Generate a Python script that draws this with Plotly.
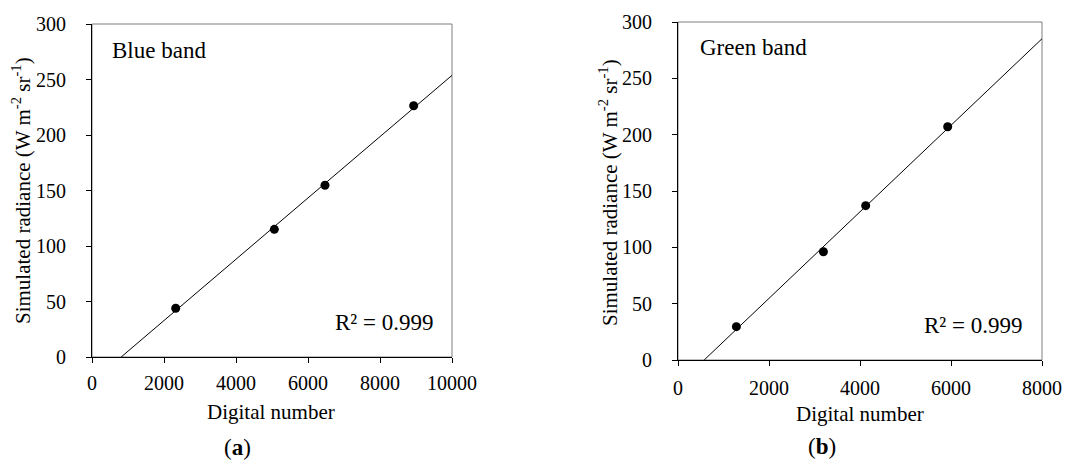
import numpy as np
import plotly.graph_objects as go

# Data
blue_dn = [2325, 5065, 6472, 8935]
blue_rad = [43.9, 115.0, 154.7, 226.4]
green_dn = [1283, 3196, 4125, 5927]
green_rad = [29.6, 96.1, 137.0, 207.0]

blue_xticks = [0, 2000, 4000, 6000, 8000, 10000]
blue_xlabels = ["0", "2000", "4000", "6000", "8000", "10000"]
green_xticks = [0, 2000, 4000, 6000, 8000]
green_xlabels = ["0", "2000", "4000", "6000", "8000"]
y_ticks = [0, 50, 100, 150, 200, 250, 300]

FONT = "Liberation Serif"
W, H = 1067, 460

def px_x(p):
    return p / W

def px_y(p):
    return 1 - p / H

fig = go.Figure()

def trend(xs, ys, xmax):
    m, b = np.polyfit(xs, ys, 1)
    x0 = -b / m
    return [x0, xmax], [m * x0 + b, m * xmax + b]

for xs, ys, xmax, xa, ya in [(blue_dn, blue_rad, 10000, "x", "y"),
                             (green_dn, green_rad, 8000, "x2", "y2")]:
    tx, ty = trend(xs, ys, xmax)
    fig.add_trace(go.Scatter(x=tx, y=ty, mode="lines", xaxis=xa, yaxis=ya,
                             line=dict(color="black", width=1), showlegend=False,
                             hoverinfo="skip"))
    fig.add_trace(go.Scatter(x=xs, y=ys, mode="markers", xaxis=xa, yaxis=ya,
                             marker=dict(color="black", size=9), showlegend=False))

# panel geometry (pixels)
A = dict(l=92, r=452, t=24, b=357)
B = dict(l=678, r=1042, t=22, b=360)

axis_common = dict(showgrid=False, zeroline=False, showline=True, linecolor="black",
                   linewidth=1, ticks="outside", ticklen=5, tickcolor="black", automargin=False,
                   tickfont=dict(family=FONT, size=20, color="black"))
inner_ticks = dict(showgrid=False, zeroline=False, showline=False, ticks="inside", automargin=False,
                   ticklen=2, tickcolor="black", showticklabels=False)

fig.update_layout(
    template="none",
    width=W, height=H, margin=dict(l=0, r=0, t=0, b=0, autoexpand=False),
    paper_bgcolor="white", plot_bgcolor="white",
    font=dict(family=FONT, size=20, color="black"),
    xaxis=dict(domain=[px_x(A["l"]), px_x(A["r"])], range=[0, 10000], tickvals=blue_xticks,
               ticktext=blue_xlabels, anchor="y", ticklabelstandoff=3, **axis_common),
    yaxis=dict(domain=[px_y(A["b"]), px_y(A["t"])], range=[0, 300], tickvals=y_ticks,
               anchor="x", ticklabelstandoff=16, **axis_common),
    xaxis2=dict(domain=[px_x(B["l"]), px_x(B["r"])], range=[0, 8000], tickvals=green_xticks,
                ticktext=green_xlabels, anchor="y2", ticklabelstandoff=5, **axis_common),
    yaxis2=dict(domain=[px_y(B["b"]), px_y(B["t"])], range=[0, 300], tickvals=y_ticks,
                anchor="x2", ticklabelstandoff=16, **axis_common),
    xaxis3=dict(overlaying="x", anchor="y", range=[0, 10000], tickvals=blue_xticks, **inner_ticks),
    xaxis4=dict(overlaying="x2", anchor="y2", range=[0, 8000], tickvals=green_xticks, **inner_ticks),
)

# gray frame (top/right borders)
for xr, yr in [("x domain", "y domain"), ("x2 domain", "y2 domain")]:
    fig.add_shape(type="rect", xref=xr, yref=yr, x0=0, x1=1, y0=0, y1=1,
                  line=dict(color="#7f7f7f", width=1), layer="below")

def ann(text, x, y, size=21, angle=0, xanchor="center"):
    fig.add_annotation(text=text, x=px_x(x), y=px_y(y), xref="paper", yref="paper",
                       showarrow=False, textangle=angle, xanchor=xanchor, yanchor="middle",
                       font=dict(family=FONT, size=size, color="black"))

ytitle = "Simulated radiance (W m<sup>-2</sup> sr<sup>-1</sup>)"
ann(ytitle, 22, 191, angle=-90)
ann(ytitle, 608, 193, angle=-90)
ann("Digital number", 271, 412)
ann("Digital number", 860, 414)
ann("Blue band", 110, 50, size=23, xanchor="left")
ann("Green band", 698, 48, size=23, xanchor="left")
ann("R² = 0.999", 333, 322, size=23, xanchor="left")
ann("R² = 0.999", 922, 325, size=23, xanchor="left")
ann("(<b>a</b>)", 237, 447, size=23)
ann("(<b>b</b>)", 822, 446, size=23)

fig.write_html("out.html", config={"displayModeBar": False},
               post_script="document.body.style.margin='0';document.body.style.overflow='hidden';")
